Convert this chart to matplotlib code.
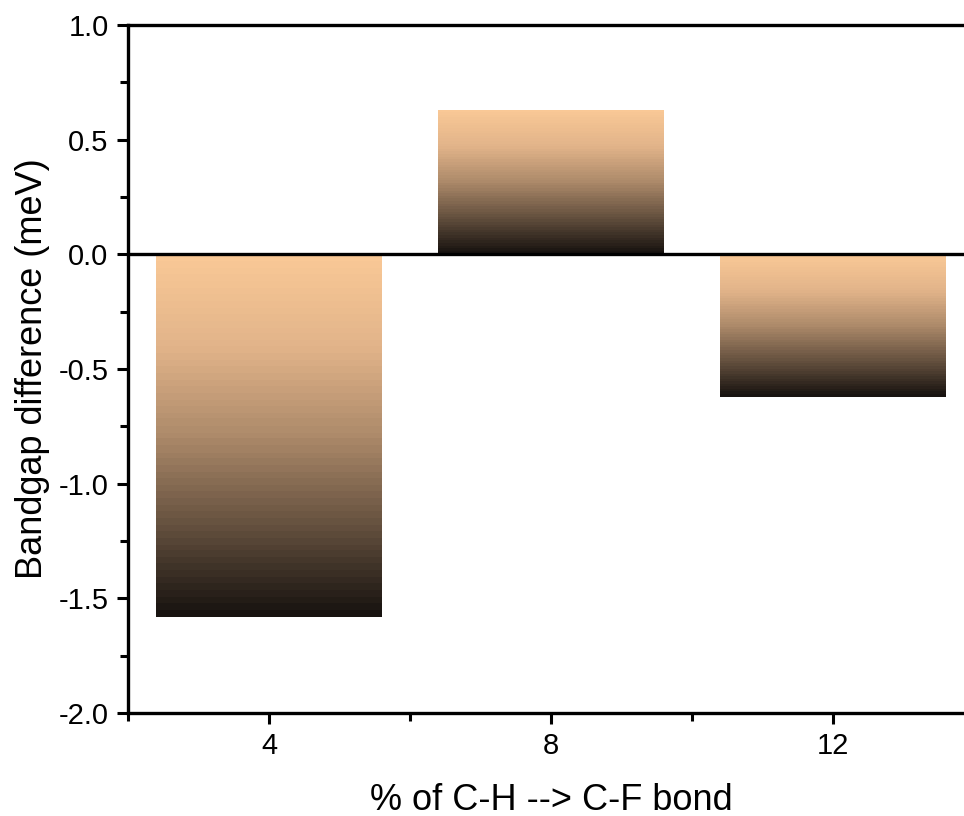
import numpy as np
import matplotlib.pyplot as plt
from matplotlib.colors import LinearSegmentedColormap

categories = ["4", "8", "12"]
values = [-1.58, 0.63, -0.62]

plt.rcParams['font.family'] = ['Liberation Sans', 'DejaVu Sans']

fig = plt.figure(figsize=(9.64, 8.16), dpi=100)
ax = fig.add_axes([0.1328, 0.1262, 0.878, 0.8432])

x = np.arange(len(categories))
bars = ax.bar(x, values, width=0.8, color='none', edgecolor='none', zorder=2)

# banded vertical gradient, light on top, dark at the bottom
cmap = LinearSegmentedColormap.from_list(
    'peach', [(0, '#181310'), (0.25, '#65513f'), (0.5, '#ad8a6a'),
              (0.75, '#e2b48a'), (1, '#f9c896')], N=55)
grad = np.linspace(0, 1, 256).reshape(-1, 1)
for b in bars:
    x0, y0 = b.get_x(), b.get_y()
    w, h = b.get_width(), b.get_height()
    lo, hi = min(y0, y0 + h), max(y0, y0 + h)
    im = ax.imshow(grad, cmap=cmap, aspect='auto', origin='lower',
                   extent=[x0, x0 + w, lo, hi], zorder=2, interpolation='nearest')
    im.set_clip_path(b)

ax.axhline(0, color='black', lw=2.4, zorder=3)

ax.set_xlim(-0.5, 2.5)
ax.set_ylim(-2.0, 1.0)
ax.set_xticks(x)
ax.set_xticklabels(categories)
ax.set_xticks([-0.5, 0.5, 1.5], minor=True)
ax.set_yticks(np.arange(-2.0, 1.01, 0.5))
ax.set_yticklabels([f"{v:.1f}" for v in np.arange(-2.0, 1.01, 0.5)])
ax.set_yticks(np.arange(-1.75, 1.0, 0.5), minor=True)

for s in ['left', 'bottom', 'top']:
    ax.spines[s].set_linewidth(2.4)
ax.spines['right'].set_visible(False)

ax.tick_params(axis='both', which='major', direction='out', length=8, width=2.2, labelsize=21, pad=6)
ax.tick_params(axis='both', which='minor', direction='out', length=6, width=2.2)
ax.tick_params(top=False, which='both')

ax.set_xlabel("% of C-H --> C-F bond", fontsize=26, labelpad=16)
ax.set_ylabel("Bandgap difference (meV)", fontsize=26, labelpad=6)

fig.savefig("out.png", dpi=100)
